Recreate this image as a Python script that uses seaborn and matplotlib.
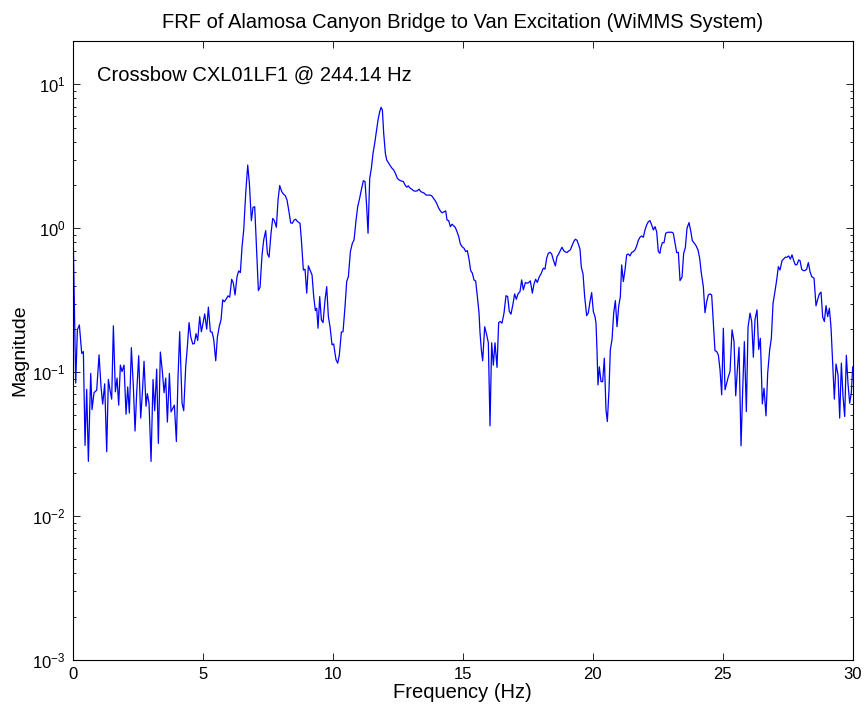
import numpy as np
import pandas as pd
import matplotlib
matplotlib.use("Agg")
import matplotlib.pyplot as plt
import seaborn as sns
from matplotlib.ticker import LogLocator, NullFormatter, FixedLocator

# ---------------- data ----------------
freq_a = [0.0, 0.114, 0.178, 0.255, 0.345, 0.409, 0.473, 0.537, 0.601, 0.691, 0.742, 0.819, 0.922, 1.012, 1.088,
          1.152, 1.229, 1.306, 1.37, 1.434, 1.498, 1.563, 1.64, 1.704, 1.768, 1.832, 1.896, 1.973, 2.05, 2.114,
          2.178, 2.255, 2.332, 2.396, 2.46, 2.537, 2.614, 2.678, 2.742, 2.819, 2.87, 2.934, 3.012, 3.088, 3.152,
          3.229, 3.293, 3.37, 3.447, 3.512, 3.576, 3.64, 3.717, 3.781, 3.845, 3.909, 3.986, 4.05, 4.114, 4.204,
          4.268, 4.345, 4.409, 4.473, 4.537, 4.614, 4.678, 4.742, 4.806, 4.883, 4.947, 5.012, 5.076]
mag_a = [1.34, 0.084, 0.197, 0.213, 0.135, 0.139, 0.031, 0.076, 0.024, 0.098, 0.055, 0.072, 0.075, 0.132, 0.079,
         0.060, 0.083, 0.028, 0.089, 0.075, 0.065, 0.21, 0.073, 0.091, 0.059, 0.112, 0.101, 0.112, 0.051, 0.079,
         0.052, 0.148, 0.079, 0.039, 0.072, 0.130, 0.048, 0.072, 0.119, 0.058, 0.071, 0.061, 0.024, 0.089, 0.054,
         0.105, 0.032, 0.138, 0.101, 0.072, 0.091, 0.045, 0.098, 0.053, 0.056, 0.059, 0.033, 0.093, 0.191, 0.061,
         0.054, 0.109, 0.151, 0.221, 0.177, 0.157, 0.158, 0.185, 0.166, 0.243, 0.191, 0.219, 0.254]

freq_b = [5.153, 5.217, 5.294, 5.358, 5.422, 5.5, 5.563, 5.64, 5.704, 5.768, 5.832, 5.896, 5.973, 6.037, 6.114,
          6.178, 6.242, 6.319, 6.383, 6.447, 6.512, 6.576, 6.653, 6.73, 6.794, 6.87, 6.935, 6.999, 7.076, 7.14,
          7.204, 7.281, 7.345, 7.422, 7.486, 7.55, 7.627, 7.691, 7.755, 7.832, 7.896, 7.96, 8.037, 8.101, 8.178,
          8.242, 8.306, 8.383, 8.447, 8.511, 8.575, 8.652, 8.742, 8.794, 8.87, 8.935, 8.999, 9.063, 9.127, 9.204,
          9.268, 9.332, 9.383, 9.435, 9.499, 9.563, 9.627, 9.704, 9.768, 9.832, 9.896, 9.973, 10.037, 10.088]
mag_b = [0.199, 0.283, 0.191, 0.19, 0.169, 0.12, 0.175, 0.21, 0.231, 0.318, 0.309, 0.321, 0.339, 0.332, 0.442,
         0.415, 0.344, 0.461, 0.505, 0.492, 0.745, 0.973, 1.75, 2.75, 2.05, 1.13, 1.40, 1.41, 0.67, 0.369,
         0.389, 0.653, 0.83, 0.963, 0.67, 0.629, 0.923, 1.17, 1.13, 1.016, 1.57, 1.98, 1.80, 1.73, 1.68,
         1.57, 1.34, 1.09, 1.083, 1.14, 1.155, 1.11, 1.083, 0.83, 0.513, 0.519, 0.354, 0.548, 0.513, 0.474,
         0.335, 0.268, 0.278, 0.202, 0.335, 0.231, 0.221, 0.318, 0.393, 0.243, 0.207, 0.155, 0.157, 0.135]

freq_c = [10.127, 10.191, 10.255, 10.332, 10.396, 10.473, 10.537, 10.602, 10.679, 10.755, 10.82, 10.897, 10.96,
          11.037, 11.1, 11.178, 11.242, 11.306, 11.358, 11.422, 11.486, 11.55, 11.614, 11.678, 11.742, 11.806,
          11.858, 11.909, 11.96, 12.024, 12.076, 12.153, 12.217, 12.281, 12.345, 12.422, 12.486, 12.563, 12.64,
          12.717, 12.78, 12.845, 12.909, 12.973, 13.037, 13.114, 13.178, 13.255, 13.319, 13.383, 13.46, 13.524,
          13.588, 13.665, 13.742, 13.806, 13.87, 13.947, 14.011, 14.075, 14.139, 14.204, 14.281, 14.345, 14.396,
          14.46, 14.524, 14.588, 14.652, 14.717, 14.78, 14.845, 14.909, 14.973, 15.05, 15.114, 15.178, 15.242,
          15.306, 15.37, 15.434, 15.498, 15.563, 15.627, 15.665]
mag_c = [0.122, 0.1155, 0.132, 0.19, 0.191, 0.286, 0.426, 0.461, 0.688, 0.787, 0.83, 1.14, 1.41,
         1.62, 1.85, 2.14, 2.11, 1.41, 0.923, 2.22, 2.61, 3.32, 3.89, 4.69, 5.65, 6.45,
         6.92, 6.63, 4.57, 3.32, 2.98, 2.83, 2.71, 2.61, 2.54, 2.38, 2.22, 2.16, 2.13,
         2.11, 2.0, 1.93, 1.97, 1.90, 1.87, 1.82, 1.81, 1.82, 1.87, 1.80, 1.77, 1.75,
         1.70, 1.70, 1.70, 1.68, 1.62, 1.55, 1.47, 1.38, 1.32, 1.28, 1.30, 1.32, 1.14,
         1.13, 1.026, 1.066, 1.04, 1.01, 0.947, 0.875, 0.778, 0.745, 0.726, 0.688, 0.699, 0.609,
         0.508, 0.487, 0.437, 0.43, 0.335, 0.257, 0.188]

freq_d = [15.716, 15.767, 15.844, 15.921, 15.985, 16.049, 16.113, 16.177, 16.241, 16.318, 16.382, 16.446, 16.51,
          16.587, 16.664, 16.728, 16.792, 16.856, 16.933, 16.997, 17.062, 17.126, 17.203, 17.267, 17.331, 17.408,
          17.472, 17.536, 17.6, 17.677, 17.741, 17.805, 17.869, 17.946, 18.01, 18.1, 18.164, 18.228, 18.292,
          18.356, 18.421, 18.485, 18.562, 18.626, 18.69, 18.754, 18.818, 18.882, 18.946, 19.01, 19.074, 19.138,
          19.203, 19.267, 19.331, 19.395, 19.459, 19.51, 19.562, 19.626, 19.69, 19.767, 19.831, 19.895, 19.959,
          20.023, 20.087, 20.126, 20.164, 20.203, 20.254, 20.318, 20.382, 20.446, 20.51, 20.562, 20.626, 20.677,
          20.741, 20.806, 20.87, 20.934, 20.998, 21.062, 21.113, 21.177, 21.241, 21.305, 21.369, 21.433, 21.497,
          21.562, 21.626, 21.69, 21.754, 21.818, 21.882, 21.946, 22.01, 22.074, 22.138, 22.203, 22.267, 22.331,
          22.395, 22.459, 22.523, 22.587]
mag_d = [0.143, 0.12, 0.207, 0.182, 0.16, 0.0424, 0.16, 0.112, 0.16, 0.108, 0.221, 0.225, 0.219,
         0.257, 0.34, 0.335, 0.264, 0.253, 0.298, 0.35, 0.321, 0.35, 0.363, 0.438, 0.373, 0.419,
         0.415, 0.419, 0.431, 0.354, 0.41, 0.442, 0.42, 0.461, 0.482, 0.528, 0.52, 0.619, 0.67,
         0.681, 0.663, 0.602, 0.547, 0.635, 0.663, 0.699, 0.738, 0.699, 0.685, 0.678, 0.695, 0.707,
         0.757, 0.807, 0.839, 0.825, 0.766, 0.715, 0.536, 0.482, 0.335, 0.247, 0.259, 0.309, 0.357,
         0.264, 0.243, 0.219, 0.143, 0.0816, 0.109, 0.086, 0.086, 0.125, 0.0547, 0.0454, 0.0754, 0.143,
         0.168, 0.257, 0.314, 0.207, 0.286, 0.335, 0.556, 0.426, 0.513, 0.653, 0.663, 0.642, 0.678,
         0.688, 0.707, 0.753, 0.825, 0.866, 0.884, 0.866, 0.973, 1.054, 1.11, 1.13, 1.054, 0.973,
         1.026, 0.947, 0.688, 0.67]

freq_e = [22.614, 22.678, 22.742, 22.806, 22.883, 22.973, 23.05, 23.1, 23.165, 23.229, 23.293, 23.357, 23.434,
          23.498, 23.562, 23.626, 23.703, 23.767, 23.831, 23.908, 23.972, 24.049, 24.113, 24.177, 24.254, 24.318,
          24.382, 24.447, 24.511, 24.575, 24.639, 24.703, 24.767, 24.831]
mag_e = [0.726, 0.794, 0.794, 0.923, 0.938, 0.938, 0.938, 0.923, 0.787, 0.677, 0.68, 0.433, 0.457,
         0.67, 0.733, 1.0, 1.094, 0.962, 0.82, 0.787, 0.757, 0.707, 0.619, 0.487, 0.393, 0.259,
         0.309, 0.344, 0.35, 0.344, 0.219, 0.141, 0.139, 0.132]

freq_f = [24.896, 24.96, 25.024, 25.088, 25.153, 25.217, 25.281, 25.358, 25.435, 25.499, 25.563, 25.627, 25.704,
          25.768, 25.832, 25.909, 25.973, 26.05, 26.114, 26.178, 26.242, 26.319, 26.383, 26.447, 26.524, 26.588,
          26.665, 26.729, 26.806, 26.87, 26.935, 26.999, 27.076, 27.14, 27.204, 27.281, 27.345, 27.409, 27.473,
          27.537, 27.601, 27.665, 27.729, 27.794, 27.858, 27.922, 27.973, 28.037, 28.101, 28.165, 28.229, 28.293,
          28.358, 28.422, 28.512, 28.588, 28.653, 28.717, 28.781, 28.845, 28.909, 28.973, 29.037, 29.101, 29.165,
          29.229, 29.293, 29.357, 29.435, 29.499, 29.563, 29.627, 29.691, 29.755, 29.819, 29.883, 29.947, 30.0]
mag_f = [0.104, 0.0696, 0.202, 0.0754, 0.0839, 0.0932, 0.101, 0.197, 0.163, 0.0685, 0.104, 0.149, 0.0308,
         0.0754, 0.163, 0.0533, 0.205, 0.257, 0.225, 0.127, 0.233, 0.271, 0.144, 0.172, 0.0602, 0.0774,
         0.0497, 0.0984, 0.143, 0.172, 0.301, 0.354, 0.438, 0.541, 0.513, 0.596, 0.612, 0.629, 0.629,
         0.642, 0.61, 0.653, 0.596, 0.556, 0.56, 0.602, 0.596, 0.519, 0.508, 0.508, 0.519, 0.577,
         0.5, 0.461, 0.45, 0.289, 0.321, 0.35, 0.36, 0.241, 0.225, 0.29, 0.243, 0.278, 0.205,
         0.1155, 0.065, 0.114, 0.0958, 0.048, 0.1155, 0.0677, 0.0492, 0.131, 0.083, 0.0609, 0.0722, 0.109]

x_ticks = [0, 5, 10, 15, 20, 25, 30]
title_text = "FRF of Alamosa Canyon Bridge to Van Excitation (WiMMS System)"
note_text = "Crossbow CXL01LF1 @ 244.14 Hz"
x_label = "Frequency (Hz)"
y_label = "Magnitude"

# ---------------- figure ----------------
sns.set_style("ticks")
plt.rcParams["font.family"] = ["Liberation Sans", "DejaVu Sans"]
plt.rcParams["mathtext.fontset"] = "custom"
plt.rcParams["mathtext.rm"] = "Liberation Sans"
plt.rcParams["mathtext.it"] = "Liberation Sans:italic"
plt.rcParams["mathtext.default"] = "regular"
plt.rcParams["text.color"] = "black"
plt.rcParams["axes.labelcolor"] = "black"
plt.rcParams["xtick.color"] = "black"
plt.rcParams["ytick.color"] = "black"

df = pd.DataFrame({
    "freq": freq_a + freq_b + freq_c + freq_d + freq_e + freq_f,
    "mag": mag_a + mag_b + mag_c + mag_d + mag_e + mag_f,
})

fig = plt.figure(figsize=(8.68, 7.13), dpi=100)
ax = fig.add_axes([0.0838, 0.0743, 0.8986, 0.8682])

sns.lineplot(data=df, x="freq", y="mag", ax=ax, color="#0000ff", linewidth=0.9,
             estimator=None, sort=False, legend=False)

ax.set_yscale("log")
ax.set_xlim(0, 30)
ax.set_ylim(1e-3, 20)
ax.xaxis.set_major_locator(FixedLocator(x_ticks))
ax.set_xticklabels([str(t) for t in x_ticks])
ax.yaxis.set_major_locator(LogLocator(base=10, numticks=10))
ax.yaxis.set_minor_locator(LogLocator(base=10, subs=np.arange(2, 10), numticks=20))
ax.yaxis.set_minor_formatter(NullFormatter())

for s in ax.spines.values():
    s.set_linewidth(0.8)
    s.set_color("black")
ax.tick_params(which="both", direction="in", top=True, right=True, colors="black",
               labelcolor="black", labelsize=12, width=0.6)
ax.tick_params(which="major", length=5, pad=5)
ax.tick_params(which="minor", length=2.5)

ax.set_xlabel(x_label, fontsize=14.5, labelpad=1, color="black")
ax.set_ylabel(y_label, fontsize=14, labelpad=3, color="black")
ax.set_title(title_text, fontsize=14.5, pad=9, color="black")
ax.text(0.031, 0.945, note_text, transform=ax.transAxes, fontsize=14.5,
        ha="left", va="center", color="black")

fig.savefig("out.png", dpi=100)
